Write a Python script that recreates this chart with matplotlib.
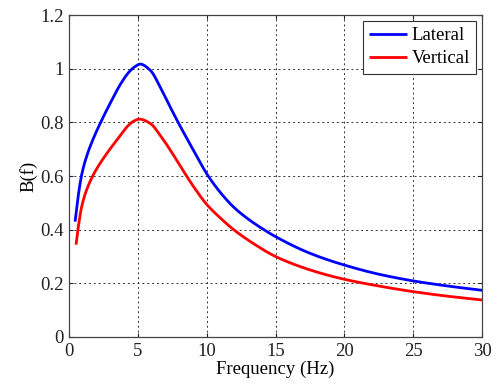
import matplotlib
matplotlib.use("Agg")
import matplotlib.pyplot as plt
from matplotlib import font_manager
import numpy as np

freq_lat = [0.44, 0.68, 0.92, 1.29, 1.77, 2.3, 2.98, 3.83, 4.4, 4.8, 5.17, 5.9, 6.62, 7.35, 8.08, 9.05, 10.02, 11.0, 12.0, 13.0, 14.0, 15.0, 17.5, 20.0, 22.5, 25.0, 27.5, 30.0]
b_lat = [0.43, 0.53, 0.605, 0.675, 0.74, 0.80, 0.87, 0.95, 0.99, 1.008, 1.017, 0.994, 0.932, 0.857, 0.785, 0.695, 0.607, 0.538, 0.482, 0.44, 0.405, 0.374, 0.312, 0.268, 0.234, 0.209, 0.19, 0.174]
freq_ver = [0.51, 0.68, 0.92, 1.29, 1.77, 2.5, 3.47, 4.3, 4.75, 5.1, 5.9, 6.62, 7.35, 8.08, 9.05, 10.02, 11.0, 11.96, 13.4, 15.0, 17.5, 20.0, 22.5, 25.0, 27.5, 30.0]
b_ver = [0.344, 0.412, 0.486, 0.55, 0.605, 0.666, 0.734, 0.788, 0.806, 0.812, 0.796, 0.752, 0.697, 0.637, 0.56, 0.493, 0.443, 0.40, 0.348, 0.30, 0.25, 0.215, 0.19, 0.169, 0.152, 0.138]

xticks = [0, 5, 10, 15, 20, 25, 30]
yticks = [0, 0.2, 0.4, 0.6, 0.8, 1.0, 1.2]
yticklabels = ["0", "0.2", "0.4", "0.6", "0.8", "1", "1.2"]

serif = 'DejaVu Serif'
for cand in ['Liberation Serif', 'Times New Roman', 'Nimbus Roman', 'FreeSerif', 'Tinos']:
    try:
        font_manager.findfont(cand, fallback_to_default=False)
        serif = cand
        break
    except Exception:
        pass
plt.rcParams['font.family'] = [serif, 'DejaVu Serif']

def smooth(x, y, n=500):
    x = np.asarray(x, float); y = np.asarray(y, float)
    h = np.diff(x); d = np.diff(y) / h
    m = np.zeros_like(y)
    for i in range(1, len(y) - 1):
        if d[i-1] * d[i] > 0:
            w1 = 2*h[i] + h[i-1]; w2 = h[i] + 2*h[i-1]
            m[i] = (w1 + w2) / (w1/d[i-1] + w2/d[i])
    m[0] = d[0]; m[-1] = d[-1]
    xs = np.linspace(x[0], x[-1], n)
    idx = np.clip(np.searchsorted(x, xs) - 1, 0, len(x) - 2)
    t = (xs - x[idx]) / h[idx]
    h00 = 2*t**3 - 3*t**2 + 1; h10 = t**3 - 2*t**2 + t
    h01 = -2*t**3 + 3*t**2; h11 = t**3 - t**2
    ys = h00*y[idx] + h10*h[idx]*m[idx] + h01*y[idx+1] + h11*h[idx]*m[idx+1]
    return xs, ys

fig = plt.figure(figsize=(4.98, 3.85), dpi=100)
ax = fig.add_axes([0.1386, 0.1247, 0.968 - 0.1386, 0.961 - 0.1247])

xl, yl = smooth(freq_lat, b_lat)
xv, yv = smooth(freq_ver, b_ver)
ax.plot(xl, yl, color='#0000ff', lw=2.0, label='Lateral', solid_capstyle='butt')
ax.plot(xv, yv, color='#ff0000', lw=2.0, label='Vertical', solid_capstyle='butt')

ax.set_xlim(0, 30)
ax.set_ylim(0, 1.2)
ax.set_xticks(xticks)
ax.set_yticks(yticks)
ax.set_yticklabels(yticklabels)
ax.grid(True, linestyle=(0, (2, 3)), color='#333333', linewidth=0.7)
ax.tick_params(direction='in', length=3, top=True, right=True, labelsize=13.5, colors='#222222', pad=4)
for s in ax.spines.values():
    s.set_color('#444444'); s.set_linewidth(0.9)
ax.set_xlabel('Frequency (Hz)', fontsize=13.5, labelpad=1)
ax.set_ylabel('B(f)', fontsize=13.5, labelpad=2)

leg = ax.legend(loc='upper right', fontsize=13.5, fancybox=False, framealpha=1,
                edgecolor='#333333', borderpad=0.35, handlelength=2.0,
                handletextpad=0.25, labelspacing=0.3, borderaxespad=0.3)
leg.get_frame().set_linewidth(0.8)

fig.savefig('out.png', dpi=100)
